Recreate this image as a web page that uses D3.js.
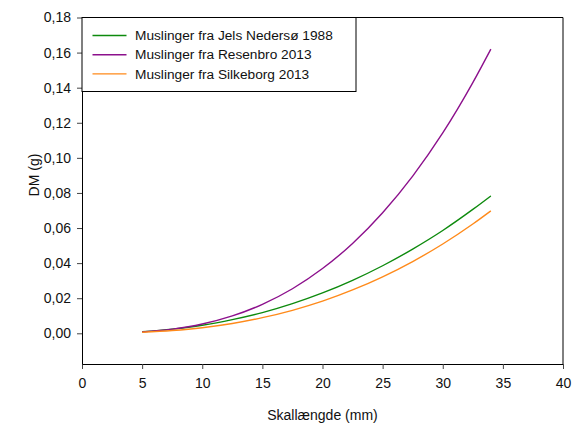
<!DOCTYPE html>
<html>
<head>
<meta charset="utf-8">
<script src="https://cdnjs.cloudflare.com/ajax/libs/d3/7.8.5/d3.min.js"></script>
<style>
  body { margin: 0; background: #fff; }
  text { font-family: "Liberation Sans", Arial, sans-serif; fill: #111; }
</style>
</head>
<body>
<svg class="chart" width="581" height="423"></svg>
<script>
var lengths = [5, 7.5, 10, 12.5, 15, 17.5, 20, 22.5, 25, 27.5, 30, 32.5, 34];
var jels = [0.0009, 0.0024, 0.0046, 0.0078, 0.0118, 0.0169, 0.0230, 0.0302, 0.0385, 0.0480, 0.0586, 0.0706, 0.0783];
var resenbro = [0.0008, 0.0024, 0.0053, 0.0099, 0.0165, 0.0254, 0.0369, 0.0512, 0.0687, 0.0896, 0.1142, 0.1429, 0.1620];
var silkeborg = [0.0006, 0.0016, 0.0032, 0.0056, 0.0089, 0.0131, 0.0183, 0.0247, 0.0322, 0.0409, 0.0509, 0.0623, 0.0698];
var seriesNames = ["Muslinger fra Jels Nedersø 1988", "Muslinger fra Resenbro 2013", "Muslinger fra Silkeborg 2013"];
var seriesColors = ["#0d8a0d", "#8c108c", "#ff8a1a"];
var xTicks = [0, 5, 10, 15, 20, 25, 30, 35, 40];
var yTicks = [0, 0.02, 0.04, 0.06, 0.08, 0.10, 0.12, 0.14, 0.16, 0.18];

var svg = d3.select(".chart"),
    margin = {top: 17.5, right: 18, bottom: 59, left: 82},
    width = +svg.attr("width") - margin.left - margin.right,
    height = +svg.attr("height") - margin.top - margin.bottom;

var x = d3.scaleLinear().domain([0, 40]).range([0, width]);
var y = d3.scaleLinear().domain([-0.0175, 0.18]).range([height, 0]);

var g = svg.append("g")
    .attr("transform", "translate(" + margin.left + "," + margin.top + ")");

var fmt = function(d) { return d3.format(".2f")(d).replace(".", ","); };

var xAxis = g.append("g")
    .attr("transform", "translate(0," + height + ")")
    .call(d3.axisBottom(x).tickValues(xTicks).tickSize(5).tickSizeOuter(0).tickPadding(9));
var yAxis = g.append("g")
    .call(d3.axisLeft(y).tickValues(yTicks).tickFormat(fmt).tickSize(5).tickSizeOuter(0).tickPadding(6));

[xAxis, yAxis].forEach(function(a) {
  a.select(".domain").attr("stroke", "#000");
  a.selectAll(".tick line").attr("stroke", "#444");
  a.selectAll("text").style("font-size", "14px").style("font-family", "Liberation Sans, Arial, sans-serif").attr("fill", "#111");
});

// frame top and right
g.append("path")
    .attr("d", "M0,0H" + width + "V" + height)
    .attr("fill", "none")
    .attr("stroke", "#000");

var line = d3.line()
    .x(function(d) { return x(d[0]); })
    .y(function(d) { return y(d[1]); })
    .curve(d3.curveMonotoneX);

[jels, resenbro, silkeborg].forEach(function(vals, i) {
  g.append("path")
      .datum(lengths.map(function(l, j) { return [l, vals[j]]; }))
      .attr("fill", "none")
      .attr("stroke", seriesColors[i])
      .attr("stroke-width", 1.4)
      .attr("d", line);
});

// legend
var leg = g.append("g");
leg.append("rect")
    .attr("x", 0).attr("y", 0)
    .attr("width", 274).attr("height", 74)
    .attr("fill", "#fff")
    .attr("stroke", "#000");
seriesNames.forEach(function(name, i) {
  var yy = 18 + i * 19.2;
  leg.append("line")
      .attr("x1", 10.5).attr("x2", 44.5)
      .attr("y1", yy).attr("y2", yy)
      .attr("stroke", seriesColors[i])
      .attr("stroke-width", 1.4);
  leg.append("text")
      .attr("x", 53).attr("y", yy)
      .attr("dy", "0.35em")
      .style("font-size", "13.7px")
      .text(name);
});

// axis titles
svg.append("text")
    .attr("transform", "rotate(-90)")
    .attr("x", -175)
    .attr("y", 34)
    .attr("dy", "0.35em")
    .style("text-anchor", "middle")
    .style("font-size", "14px")
    .text("DM (g)");

svg.append("text")
    .attr("x", margin.left + width / 2)
    .attr("y", 420)
    .style("text-anchor", "middle")
    .style("font-size", "14px")
    .text("Skallængde (mm)");
</script>
</body>
</html>
